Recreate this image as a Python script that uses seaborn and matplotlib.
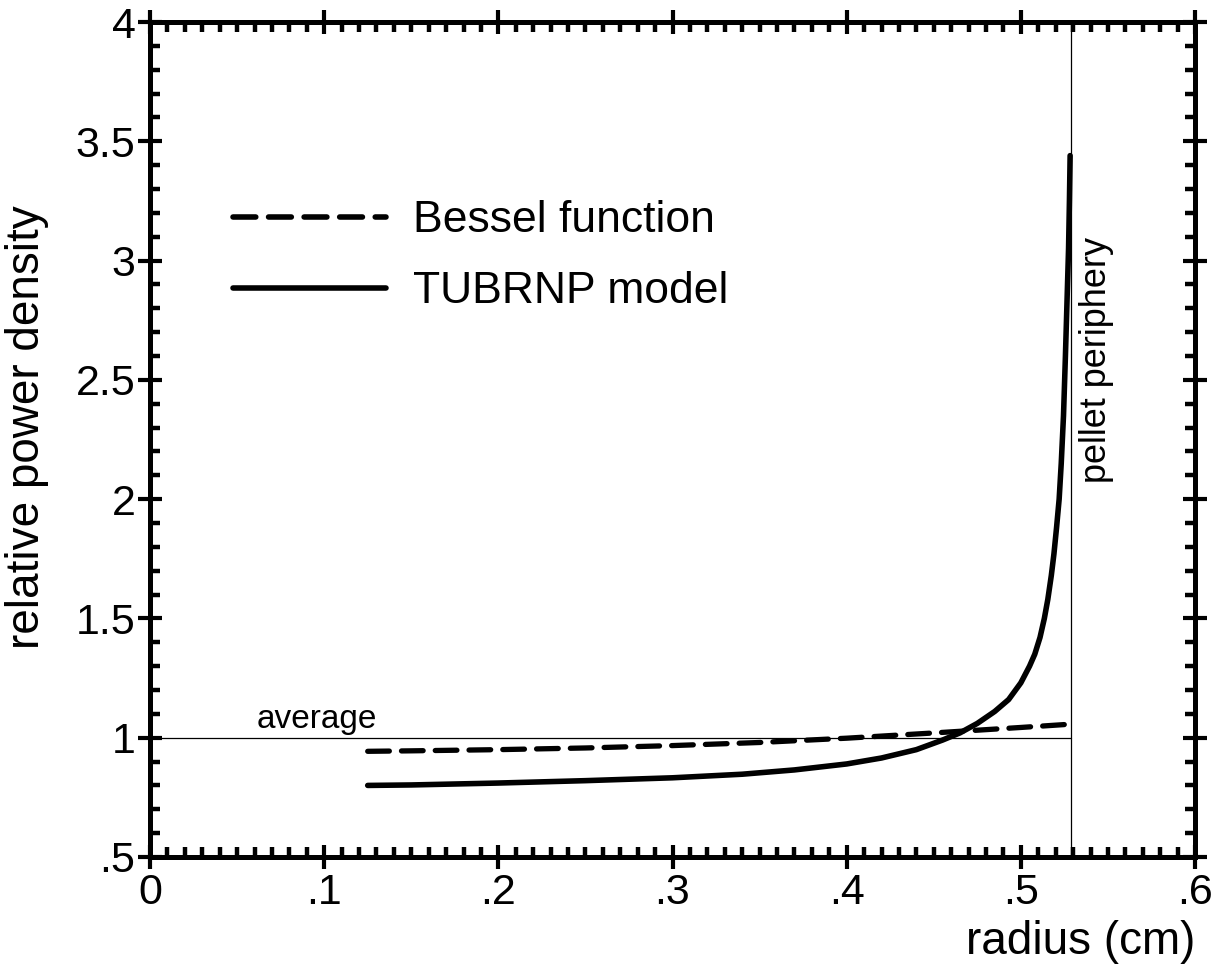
import numpy as np
import pandas as pd
import matplotlib
matplotlib.use("Agg")
import matplotlib.pyplot as plt
import seaborn as sns
from matplotlib.ticker import MultipleLocator, FixedLocator

# ---- data ----
bessel_r = [0.125, 0.15, 0.20, 0.25, 0.30, 0.35, 0.40, 0.45, 0.50, 0.529]
bessel_p = [0.943, 0.945, 0.950, 0.957, 0.967, 0.980, 0.998, 1.020, 1.043, 1.057]

tubrnp_r = [0.125, 0.15, 0.20, 0.25, 0.30, 0.34, 0.37, 0.40, 0.42, 0.44, 0.455,
            0.465, 0.475, 0.485, 0.493, 0.500, 0.505, 0.508, 0.511, 0.5135,
            0.5155, 0.5175, 0.519, 0.5205, 0.522, 0.5232, 0.5245, 0.5256,
            0.5266, 0.5274, 0.5279, 0.5283]
tubrnp_p = [0.800, 0.802, 0.810, 0.820, 0.832, 0.847, 0.865, 0.890, 0.915, 0.950,
            0.990, 1.020, 1.060, 1.110, 1.160, 1.230, 1.300, 1.350, 1.420, 1.500,
            1.580, 1.680, 1.770, 1.880, 2.000, 2.150, 2.350, 2.600, 2.850,
            3.050, 3.250, 3.440]

periphery_r = 0.529
average_p = 1.0

x_ticks = [0, 0.1, 0.2, 0.3, 0.4, 0.5, 0.6]
x_ticklabels = ["0", ".1", ".2", ".3", ".4", ".5", ".6"]
y_ticks = [0.5, 1.0, 1.5, 2.0, 2.5, 3.0, 3.5, 4.0]
y_ticklabels = [".5", "1", "1.5", "2", "2.5", "3", "3.5", "4"]

sns.set_theme(style="ticks")
plt.rcParams["font.family"] = ["Liberation Sans", "DejaVu Sans"]
plt.rcParams["text.color"] = "black"
plt.rcParams["axes.labelcolor"] = "black"

W, H = 1218, 973
fig = plt.figure(figsize=(W / 100, H / 100), dpi=100)
ax = fig.add_axes([150 / W, 1 - 857 / H, (1195 - 150) / W, (857 - 22) / H])

df_b = pd.DataFrame({"r": bessel_r, "p": bessel_p})
df_t = pd.DataFrame({"r": tubrnp_r, "p": tubrnp_p})

sns.lineplot(data=df_b, x="r", y="p", ax=ax, color="black", lw=3.8,
             label="Bessel function", sort=False)
lb = ax.lines[-1]
lb.set_dashes((4.1, 2.3))
lb.set_dash_capstyle("round")
sns.lineplot(data=df_t, x="r", y="p", ax=ax, color="black", lw=4.0,
             label="TUBRNP model", sort=False)
ax.lines[-1].set_solid_capstyle("round")
ax.lines[-1].set_solid_joinstyle("round")

# reference lines
ax.plot([0, periphery_r], [average_p, average_p], color="black", lw=0.9)
ax.axvline(periphery_r, color="black", lw=0.9)

ax.text(0.061, 1.012, "average", fontsize=24, ha="left", va="bottom")
ax.text(0.5335, 3.10, "pellet periphery", fontsize=26, rotation=90,
        ha="left", va="top")

ax.set_xlim(0, 0.6)
ax.set_ylim(0.5, 4.0)
ax.xaxis.set_major_locator(FixedLocator(x_ticks))
ax.set_xticklabels(x_ticklabels)
ax.yaxis.set_major_locator(FixedLocator(y_ticks))
ax.set_yticklabels(y_ticklabels)
ax.xaxis.set_minor_locator(MultipleLocator(0.01))
ax.yaxis.set_minor_locator(MultipleLocator(0.1))

for s in ax.spines.values():
    s.set_visible(True)
    s.set_linewidth(3.6)
    s.set_color("black")

ax.tick_params(which="major", direction="inout", length=17, width=3.0,
               labelsize=31, color="black", labelcolor="black",
               top=True, right=True, labeltop=False, labelright=False)
ax.tick_params(axis="x", which="major", pad=3)
ax.tick_params(axis="y", which="major", pad=2)
ax.tick_params(which="minor", direction="in", length=7, width=3.2,
               top=True, right=True, color="black")

ax.set_xlabel("radius (cm)", fontsize=33, loc="right")
ax.xaxis.set_label_coords(1.0, -0.076)
ax.set_ylabel("relative power density", fontsize=33)
ax.yaxis.set_label_coords(-0.097, 0.515)

leg = ax.legend(loc="upper left", bbox_to_anchor=(0.062, 0.808), frameon=False,
                fontsize=32, handlelength=3.45, handletextpad=0.6,
                labelspacing=0.68, borderaxespad=0)
for h in leg.get_lines():
    h.set_linewidth(4.0)
for t in leg.get_texts():
    t.set_color("black")

ax.grid(False)
fig.savefig("out.png", dpi=100)
